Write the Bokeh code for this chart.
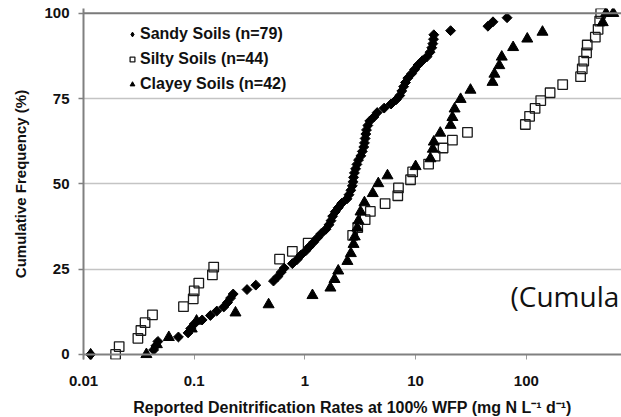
import math
from bokeh.plotting import figure
from bokeh.models import (FixedTicker, CustomJSTickFormatter, Span, Legend, LegendItem,
                          Label, Range1d)
from bokeh.embed import file_html
from bokeh.resources import INLINE

# ---------------- data ----------------
sandy_x = [0.0116, 0.043, 0.045, 0.047, 0.072, 0.088, 0.093, 0.100, 0.118, 0.14,
           0.16, 0.185, 0.20, 0.213, 0.225, 0.30, 0.36, 0.52, 0.57, 0.61,
           0.65, 0.77, 0.85, 0.92, 1.02, 1.1, 1.2, 1.3, 1.4, 1.55,
           1.65, 1.72, 1.78, 1.88, 2.0, 2.15, 2.4, 2.5, 2.6, 2.68,
           2.72, 2.75, 2.8, 2.87, 2.95, 3.05, 3.2, 3.3, 3.4, 3.45,
           3.5, 3.55, 3.6, 3.7, 3.85, 4.2, 4.5, 5.2, 6.0, 6.7,
           7.2, 7.5, 7.8, 8.1, 8.5, 9.2, 9.8, 10.5, 11.5, 12.7,
           13.5, 14.0, 14.3, 14.5, 14.6, 20.7, 45, 50, 67]
sandy_y = [0, 1.3, 2.5, 3.8, 5.1, 6.3, 7.6, 8.9, 10.1, 11.4,
           12.7, 13.9, 15.2, 16.5, 17.7, 19.0, 20.3, 21.5, 22.8, 24.1,
           25.3, 26.6, 27.8, 29.1, 30.4, 31.6, 32.9, 34.2, 35.4, 36.7,
           38.0, 39.2, 40.5, 41.8, 43.0, 44.3, 45.6, 46.8, 48.1, 49.4,
           50.6, 51.9, 53.2, 54.4, 55.7, 57.0, 58.2, 59.5, 60.8, 62.0,
           63.3, 64.6, 65.8, 67.1, 68.4, 69.6, 70.9, 72.2, 73.4, 74.7,
           75.9, 77.2, 78.5, 79.7, 81.0, 82.3, 83.5, 84.8, 86.1, 87.3,
           88.6, 89.9, 91.1, 92.4, 93.7, 94.9, 96.2, 97.5, 98.7]

silty_x = [0.0195, 0.021, 0.031, 0.033, 0.036, 0.042, 0.08, 0.098, 0.10, 0.11,
           0.146, 0.15, 0.59, 0.77, 1.07, 2.7, 3.0, 3.5, 3.9, 5.3,
           6.9, 7.0, 9.0, 9.4, 13.1, 15.0, 17.7, 21.5, 29.4, 98,
           107, 120, 135, 164, 213, 309, 320, 330, 350, 355,
           420, 445, 460, 470]
silty_y = [0, 2.3, 4.7, 7.0, 9.3, 11.6, 14.0, 16.3, 18.6, 20.9,
           23.3, 25.6, 27.9, 30.2, 32.6, 34.9, 37.2, 39.5, 41.9, 44.2,
           46.5, 48.8, 51.2, 53.5, 55.8, 58.1, 60.5, 62.8, 65.1, 67.4,
           69.8, 72.1, 74.4, 76.7, 79.1, 81.4, 83.7, 86.0, 88.4, 90.7,
           93.0, 95.3, 97.7, 100]

clayey_x = [0.037, 0.046, 0.059, 0.095, 0.105, 0.236, 0.47, 1.17, 1.70, 1.85,
            2.0, 2.42, 2.6, 2.75, 2.82, 2.97, 3.05, 3.18, 3.45, 4.1,
            4.6, 5.57, 10.0, 13.6, 14.3, 14.6, 16.7, 20.7, 21.5, 22.5,
            25.5, 31.3, 49.5, 51.5, 57, 60, 76, 102, 140, 490,
            525, 610]
clayey_y = [0, 2.9, 5.0, 7.5, 9.8, 12.2, 14.6, 17.3, 19.5, 22.0,
            24.5, 27.3, 29.6, 32.3, 34.5, 37.1, 39.2, 41.8, 44.5, 47.2,
            50.1, 52.4, 55.1, 57.4, 60.2, 62.3, 64.9, 67.2, 69.5, 72.0,
            74.8, 77.5, 79.8, 82.2, 84.7, 87.2, 90.0, 92.5, 94.5, 97.3,
            100, 100]

labels = ["Sandy Soils (n=79)", "Silty Soils (n=44)", "Clayey Soils (n=42)"]
x_ticks = [0.01, 0.1, 1, 10, 100]
y_ticks = [0, 25, 50, 75, 100]
x_title = "Reported Denitrification Rates at 100% WFP (mg N L\u207b\u00b9 d\u207b\u00b9)"
y_title = "Cumulative Frequency (%)"
note_text = "(Cumula"

FONT = "Liberation Sans"

p = figure(width=621, height=417, x_axis_type="log",
           x_range=Range1d(0.01, 724), y_range=Range1d(-1.5, 101.4),
           output_backend="svg", toolbar_location=None,
           min_border_left=83, min_border_right=0, min_border_top=8,
           min_border_bottom=0)
p.frame_width = 538
p.frame_height = 351
p.outline_line_color = None
p.background_fill_color = "white"
p.border_fill_color = "white"

# grid
p.xgrid.visible = False
p.ygrid.ticker = FixedTicker(ticks=[25, 50, 75])
p.ygrid.grid_line_color = "#c4c4c4"
p.ygrid.grid_line_width = 1.5

# axes
p.xaxis.ticker = FixedTicker(ticks=x_ticks, minor_ticks=[])
p.xaxis.formatter = CustomJSTickFormatter(code="return tick.toString();")
p.xaxis.axis_line_color = None
p.xaxis.major_tick_in = 5
p.xaxis.major_tick_out = 0
p.xaxis.major_tick_line_color = "#9a9a9a"
p.xaxis.minor_tick_line_color = None
p.xaxis.major_label_standoff = 16
p.xaxis.axis_label = x_title
p.xaxis.axis_label_standoff = 10

p.yaxis.ticker = FixedTicker(ticks=y_ticks, minor_ticks=[])
p.yaxis.axis_line_color = "#808080"
p.yaxis.axis_line_width = 2
p.yaxis.major_tick_out = 5
p.yaxis.major_tick_in = 0
p.yaxis.major_tick_line_color = "#808080"
p.yaxis.major_tick_line_width = 1.5
p.yaxis.minor_tick_line_color = None
p.yaxis.major_label_standoff = 9
p.yaxis.axis_label = y_title
p.yaxis.axis_label_standoff = 12

for ax in (p.xaxis, p.yaxis):
    ax.major_label_text_font = FONT
    ax.major_label_text_font_style = "bold"
    ax.major_label_text_font_size = "15px"
    ax.major_label_text_color = "#111111"
    ax.axis_label_text_font = FONT
    ax.axis_label_text_font_style = "bold"
    ax.axis_label_text_color = "#111111"
p.xaxis.axis_label_text_font_size = "16px"
p.yaxis.axis_label_text_font_size = "15px"

# frame lines at 0 and 100
p.add_layout(Span(location=0, dimension="width", line_color="#808080", line_width=2))
p.add_layout(Span(location=100, dimension="width", line_color="#7a7a7a", line_width=2))

# series
r_silty = p.scatter(silty_x, silty_y, marker="square", size=9.5,
                    fill_color=None, line_color="#1a1a1a", line_width=1.3)
r_clay = p.scatter(clayey_x, clayey_y, marker="triangle", size=11,
                   fill_color="black", line_color="black")
r_sandy = p.scatter(sandy_x, sandy_y, marker="square", size=7, angle=math.pi / 4,
                    fill_color="black", line_color="black")
# legend proxy: the first sandy point drawn as a diamond (hidden under its rotated square)
r_sandy_leg = p.scatter(x=sandy_x[:1], y=sandy_y[:1], marker="diamond", size=12,
                        fill_color="black", line_color="black")

legend = Legend(items=[LegendItem(label=labels[0], renderers=[r_sandy_leg]),
                       LegendItem(label=labels[1], renderers=[r_silty]),
                       LegendItem(label=labels[2], renderers=[r_clay])],
                location=(43, 265), margin=0, padding=0, spacing=5,
                glyph_width=12, glyph_height=20, label_height=20,
                label_standoff=2, border_line_color=None,
                background_fill_alpha=0,
                label_text_font=FONT, label_text_font_style="bold",
                label_text_font_size="16px", label_text_color="#111111")
p.add_layout(legend)

p.add_layout(Label(x=72, y=17.0, text=note_text, text_font="Open Sans",
                   text_font_size="28px", text_color="#111111",
                   text_baseline="alphabetic"))

open("out.html", "w").write(file_html(p, INLINE))
